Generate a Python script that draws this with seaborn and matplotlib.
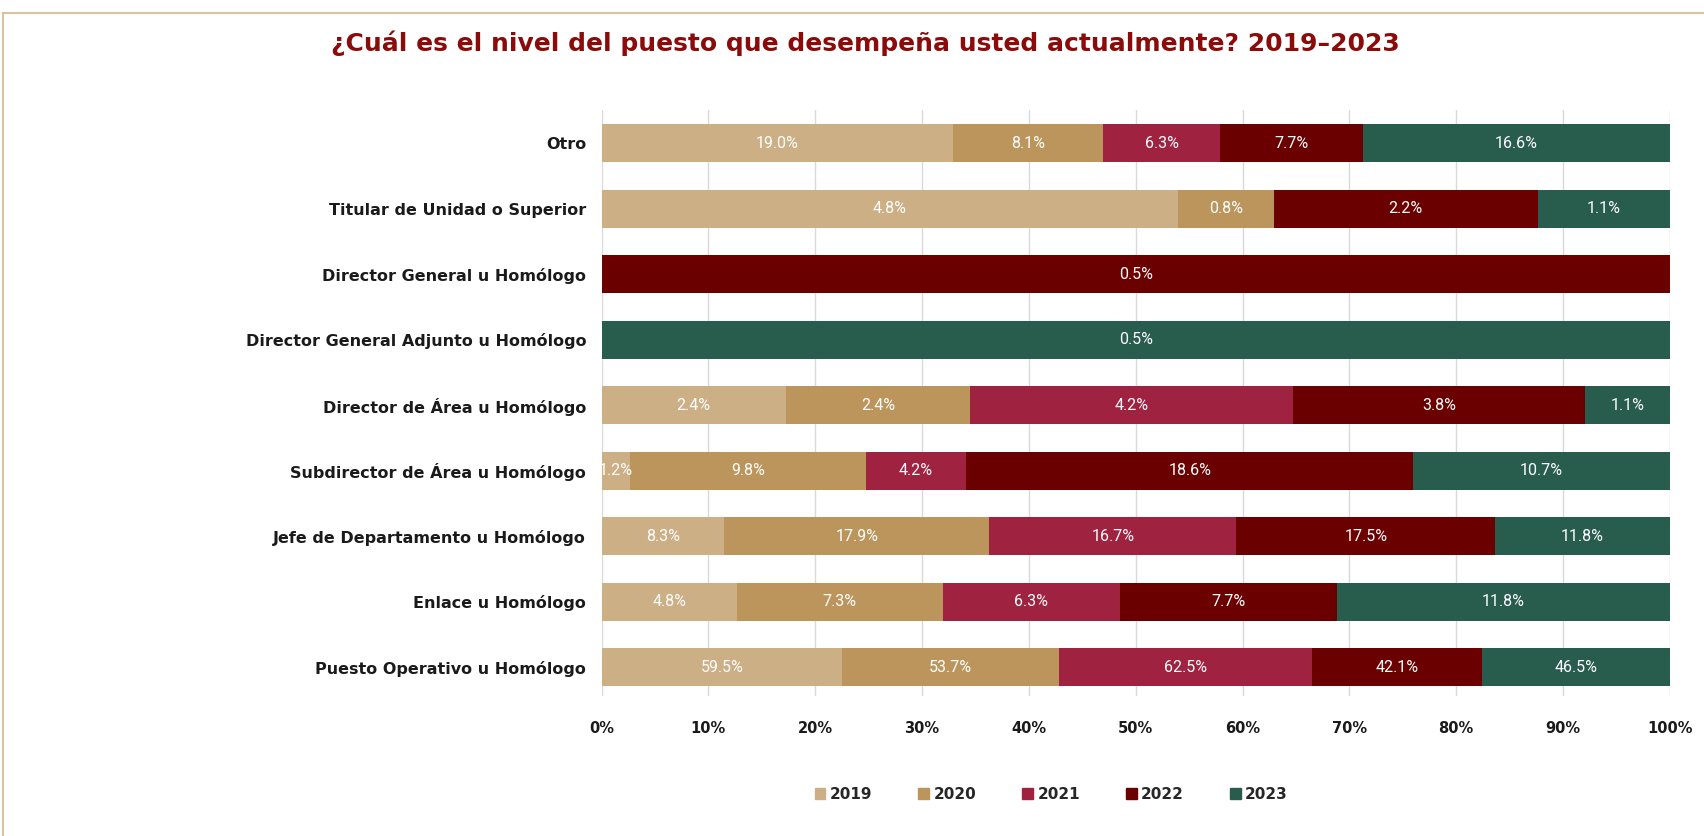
import numpy as np
import pandas as pd
import matplotlib.pyplot as plt
import seaborn as sns
from matplotlib.patches import Rectangle

# data (share of respondents per year)
categories = [
    "Otro",
    "Titular de Unidad o Superior",
    "Director General u Homólogo",
    "Director General Adjunto u Homólogo",
    "Director de Área u Homólogo",
    "Subdirector de Área u Homólogo",
    "Jefe de Departamento u Homólogo",
    "Enlace u Homólogo",
    "Puesto Operativo u Homólogo",
]
years = ["2019", "2020", "2021", "2022", "2023"]
v2019 = [19.0, 4.8, 0.0, 0.0, 2.4, 1.2, 8.3, 4.8, 59.5]
v2020 = [8.1, 0.8, 0.0, 0.0, 2.4, 9.8, 17.9, 7.3, 53.7]
v2021 = [6.3, 0.0, 0.0, 0.0, 4.2, 4.2, 16.7, 6.3, 62.5]
v2022 = [7.7, 2.2, 0.5, 0.0, 3.8, 18.6, 17.5, 7.7, 42.1]
v2023 = [16.6, 1.1, 0.0, 0.5, 1.1, 10.7, 11.8, 11.8, 46.5]
colors = ["#CDAF86", "#BC955C", "#9F2241", "#6B0000", "#285C4D"]

df = pd.DataFrame({"2019": v2019, "2020": v2020, "2021": v2021,
                   "2022": v2022, "2023": v2023}, index=categories)
share = df.div(df.sum(axis=1), axis=0) * 100
cum = share.cumsum(axis=1)

sns.set_theme(style="white")
plt.rcParams["font.family"] = ["DejaVu Sans"]

fig = plt.figure(figsize=(17.04, 8.36), dpi=100)
ax = fig.add_axes([0.353, 0.168, 0.627, 0.70])

# draw cumulative totals from the last year back so earlier years sit on top
for yr, col in reversed(list(zip(years, colors))):
    sns.barplot(x=cum[yr].values, y=categories, color=col, orient="h",
                width=0.58, ax=ax, saturation=1, linewidth=0, zorder=2)

for i, cat in enumerate(categories):
    for yr in years:
        val = df.loc[cat, yr]
        if val <= 0:
            continue
        cx = cum.loc[cat, yr] - share.loc[cat, yr] / 2
        ax.text(cx, i, f"{val:.1f}%", ha="center", va="center", color="white",
                fontsize=11.5, family=["Roboto", "DejaVu Sans"],
                zorder=5, clip_on=False)

ax.set_xlim(0, 100)
ax.set_ylim(8.43, -0.5)
ax.set_xticks(np.arange(0, 101, 10))
ax.set_xticklabels([f"{t}%" for t in range(0, 101, 10)], fontsize=10.5,
                   fontweight="bold", color="#1a1a1a")
ax.tick_params(axis="y", labelsize=11.5, pad=5, labelcolor="#1a1a1a")
for lab in ax.get_yticklabels():
    lab.set_fontweight("bold")
ax.tick_params(axis="x", pad=12)
ax.set_xlabel("")
ax.set_ylabel("")
ax.grid(axis="x", color="#D9D9D9", linewidth=1, zorder=0)
ax.set_axisbelow(True)
for s in ax.spines.values():
    s.set_visible(False)

handles = [Rectangle((0, 0), 1, 1, color=c) for c in colors]
fig.legend(handles, years, loc="center", bbox_to_anchor=(0.617, 0.05), ncol=5,
           frameon=False, handlelength=0.7, handleheight=0.7, handletextpad=0.3,
           columnspacing=3.0, prop={"weight": "bold", "size": 11})

fig.text(0.508, 0.948, "¿Cuál es el nivel del puesto que desempeña usted actualmente? 2019–2023",
         ha="center", va="center", fontsize=18, fontweight="bold", color="#8B0A0A")

# tan frame around the slide area
fig.patches.append(Rectangle((0.002, -0.05), 1.2, 1.035, transform=fig.transFigure,
                             fill=False, edgecolor="#D9C3A0", linewidth=1.5))

fig.savefig("out.png", dpi=100)
